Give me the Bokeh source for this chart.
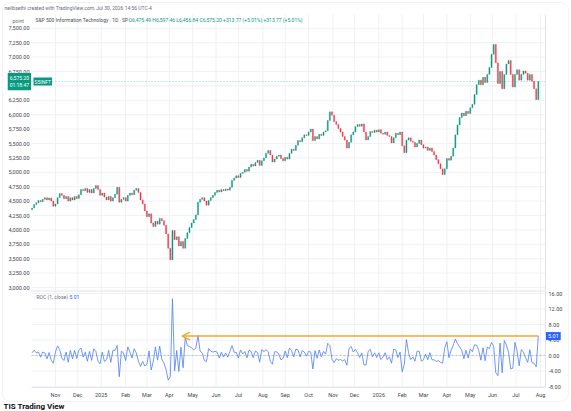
import pandas as pd
from bokeh.plotting import figure
from bokeh.models import (Range1d, LinearAxis, FixedTicker, Label, BoxAnnotation,
                          Arrow, OpenHead, ColumnDataSource, NumeralTickFormatter)
from bokeh.embed import file_html
from bokeh.resources import INLINE

# ---------------- data ----------------
first_open = 4350.0
closes = [
    4380, 4440, 4470, 4510, 4490, 4530, 4560, 4520, 4555, 4500,
    4410, 4450, 4560, 4630, 4600, 4540, 4580, 4500, 4560, 4520,
    4580, 4545, 4610, 4700, 4680, 4720, 4650, 4700, 4640, 4720,
    4770, 4700, 4600, 4640, 4570, 4520, 4580, 4500, 4560, 4620,
    4740, 4480, 4530, 4560, 4500, 4600, 4640, 4610, 4690, 4720,
    4650, 4520, 4450, 4330, 4230, 4280, 4120, 4060, 4150, 4100,
    4200, 4160, 4080, 3930, 3680, 3480, 3990, 3830, 3880, 3720,
    3800, 3680, 3850, 3950, 4040, 4120, 4180, 4260, 4480, 4530,
    4560, 4500, 4430, 4510, 4560, 4600, 4650, 4690, 4660, 4700,
    4680, 4710, 4690, 4740, 4860, 4900, 4940, 4910, 4980, 5000,
    5050, 5020, 5090, 5140, 5110, 5170, 5210, 5120, 5200, 5250,
    5330, 5380, 5300, 5180, 5230, 5280, 5300, 5240, 5200, 5260,
    5230, 5330, 5400, 5380, 5470, 5550, 5530, 5600, 5650, 5640,
    5700, 5750, 5550, 5620, 5580, 5660, 5640, 5700, 5720, 5900,
    6050, 5990, 5880, 5830, 5760, 5700, 5620, 5560, 5420, 5520,
    5650, 5700, 5790, 5830, 5800, 5840, 5700, 5560, 5620, 5710,
    5690, 5730, 5700, 5740, 5680, 5660, 5700, 5640, 5620, 5510,
    5600, 5680, 5650, 5700, 5460, 5340, 5560, 5600, 5540, 5520,
    5440, 5500, 5560, 5480, 5420, 5440, 5380, 5420, 5360, 5300,
    5220, 5150, 5060, 4960, 5060, 5240, 5210, 5280, 5420, 5650,
    5820, 5950, 6030, 5980, 6060, 6020, 6120, 6180, 6350, 6520,
    6600, 6520, 6650, 6560, 6700, 6820, 7050, 7220, 6900, 6540,
    6750, 6450, 6700, 6880, 6940, 6700, 6480, 6700, 6780, 6600,
    6700, 6760, 6720, 6600, 6700, 6580, 6450, 6261.43, 6575.20,
]
month_labels = ["Nov", "Dec", "2025", "Feb", "Mar", "Apr", "May", "Jun", "Jul", "Aug",
                "Sep", "Oct", "Nov", "Dec", "2026", "Feb", "Mar", "Apr", "May", "Jun",
                "Jul", "Aug"]
month_dates = ["2024-11-01", "2024-12-01", "2025-01-01", "2025-02-01", "2025-03-01",
               "2025-04-01", "2025-05-01", "2025-06-01", "2025-07-01", "2025-08-01",
               "2025-09-01", "2025-10-01", "2025-11-01", "2025-12-01", "2026-01-01",
               "2026-02-01", "2026-03-01", "2026-04-01", "2026-05-01", "2026-06-01",
               "2026-07-01", "2026-08-01"]
price_ticks = [3000, 3250, 3500, 3750, 4000, 4250, 4500, 4750, 5000, 5250, 5500,
               5750, 6000, 6250, 6500, 6750, 7000, 7250, 7500]
roc_ticks = [-8, -4, 0, 4, 8, 12, 16]
arrow_end_date = "2025-04-17"

header_text = "neilbsethi created with TradingView.com, Jul 30, 2026 14:56 UTC-4"
symbol_text = "S&P 500 Information Technology \u00b7 1D \u00b7 SP"
ohlc_text = "O6,475.49 H6,597.46 L6,456.84 C6,575.20 +313.77 (+5.01%) +313.77 (+5.01%)"
ticker_tag = "S5INFT"
countdown = "01:18:47"
roc_name = "ROC (1, close)"
footer_text = "TIS Trading View"

# ---------------- derived series ----------------
cal = pd.bdate_range("2024-10-01", "2026-08-31")
trading = cal[cal <= pd.Timestamp("2026-07-30")]
candle_days = trading[1::2]
assert len(candle_days) == len(closes), (len(candle_days), len(closes))
xs = [int(cal.get_loc(d)) for d in candle_days]
opens = [first_open] + closes[:-1]
roc = [100.0 * (c / o - 1.0) for o, c in zip(opens, closes)]
month_idx = [int(cal.searchsorted(pd.Timestamp(d))) for d in month_dates]
arrow_end_idx = int(cal.searchsorted(pd.Timestamp(arrow_end_date)))

GREEN, RED = "#089981", "#f23645"
colors = [GREEN if c >= o else RED for o, c in zip(opens, closes)]

# ---------------- layout geometry (page pixels) ----------------
W, H = 570, 410
FL, FR, FT, FB = 31, 545, 14, 387          # chart panes on the page
PX_DAY, IDX0 = 1.0636, 30.5                # x scale
P_PX, P_REF, P_REF_Y = 250 / 14.4, 3000, 287
R_PX, R0_Y = 3.875, 355

def dx(px):
    return (px - IDX0) / PX_DAY

def dp(py):
    return P_REF + (P_REF_Y - py) * P_PX

def dr(py):
    return (R0_Y - py) / R_PX

# the frame covers the whole canvas; axes sit at fixed locations inside it
p = figure(width=W, height=H,
           x_range=Range1d(dx(0), dx(W)),
           y_range=Range1d(dp(H), dp(0)),
           x_axis_type=None, y_axis_type=None,
           output_backend="svg", toolbar_location=None, min_border=0)
p.title.visible = False
p.extra_y_ranges = {"roc": Range1d(dr(H), dr(0))}
p.outline_line_color = None
p.background_fill_color = "white"
p.border_fill_color = "white"

FONT = "Roboto"
AX_COL = "#434651"
GRID = "#eff1f5"

# outer rounded frame of the snapshot
p.add_layout(BoxAnnotation(left=dx(2), right=dx(568), top=dp(2), bottom=dp(401),
                           fill_color=None, line_color="#d5d8df", line_width=1,
                           border_radius=8))

def style_axis(ax, standoff):
    ax.major_tick_line_color = None
    ax.minor_tick_line_color = None
    ax.major_tick_out = 0
    ax.major_tick_in = 0
    ax.minor_tick_out = 0
    ax.minor_tick_in = 0
    ax.major_label_text_font_size = "5.5px"
    ax.major_label_text_font = FONT
    ax.major_label_text_color = AX_COL
    ax.major_label_standoff = standoff

# grid lines, limited to the panes
p.segment(x0=month_idx, x1=month_idx, y0=[dp(FB)] * len(month_idx),
          y1=[dp(FT)] * len(month_idx), line_color=GRID, line_width=1)
p.segment(x0=[dx(FL)] * len(price_ticks), x1=[dx(FR)] * len(price_ticks),
          y0=price_ticks, y1=price_ticks, line_color=GRID, line_width=1)
p.segment(x0=[dx(FL)] * len(roc_ticks), x1=[dx(FR)] * len(roc_ticks),
          y0=roc_ticks, y1=roc_ticks, line_color=GRID, line_width=1, y_range_name="roc")

# pane separator, zero line, last-price line
p.segment(x0=[dx(FL)], x1=[dx(FR)], y0=[dp(290.5)], y1=[dp(290.5)],
          line_color="#e0e3eb", line_width=1)
p.segment(x0=[dx(FL)], x1=[dx(FR)], y0=[0], y1=[0], y_range_name="roc",
          line_color="#9598a1", line_dash="2 2", line_width=0.7, line_alpha=0.8)
p.segment(x0=[dx(FL)], x1=[dx(FR)], y0=[closes[-1]], y1=[closes[-1]],
          line_color=GREEN, line_dash="1 2", line_width=0.8, line_alpha=0.6)

price_axis = LinearAxis(ticker=FixedTicker(ticks=price_ticks), fixed_location=dx(FL),
                        formatter=NumeralTickFormatter(format="0,0.00"))
style_axis(price_axis, 2)
price_axis.axis_line_color = None
p.add_layout(price_axis, "left")

roc_axis = LinearAxis(y_range_name="roc", ticker=FixedTicker(ticks=roc_ticks),
                      fixed_location=dx(FR), bounds=(dr(FB), dr(FT)),
                      formatter=NumeralTickFormatter(format="0.00"))
style_axis(roc_axis, 3)
roc_axis.axis_line_color = "#e0e3eb"
p.add_layout(roc_axis, "right")

x_axis = LinearAxis(ticker=FixedTicker(ticks=month_idx), fixed_location=dp(FB),
                    bounds=(dx(FL), dx(FR)),
                    major_label_overrides={i: l for i, l in zip(month_idx, month_labels)})
style_axis(x_axis, 4)
x_axis.axis_line_color = "#e6e8ee"
p.add_layout(x_axis, "below")

# candles
src = ColumnDataSource(dict(
    x=xs,
    top=[max(o, c) for o, c in zip(opens, closes)],
    bottom=[min(o, c) for o, c in zip(opens, closes)],
    color=colors,
))
p.vbar(x="x", width=1.0, top="top", bottom="bottom", fill_color="color",
       line_color="color", line_width=0.4, source=src)

# ROC line
p.line(xs, roc, y_range_name="roc", line_color="#4d7ff5", line_width=0.8)

ORANGE = "#f7a531"
p.add_layout(Arrow(end=OpenHead(size=8, line_color=ORANGE, line_width=1.5),
                   x_start=xs[-1], y_start=roc[-1], x_end=arrow_end_idx, y_end=roc[-1],
                   line_color=ORANGE, line_width=1.5, y_range_name="roc"))

def add_label(text, x, y, size, color, align="left", baseline="middle", roc_pane=False,
              bg=None, style="normal", pad=0):
    kw = dict(x=x, y=y, text=text, text_font=FONT, text_font_size=size, text_color=color,
              text_align=align, text_baseline=baseline, text_font_style=style)
    if roc_pane:
        kw["y_range_name"] = "roc"
    if bg is not None:
        kw["background_fill_color"] = bg
        kw["padding"] = pad
    p.add_layout(Label(**kw))

add_label(header_text, dx(4), dp(7), "5px", "#6a6d78")
add_label("point", dx(12), dp(20), "5px", "#6a6d78")
add_label(symbol_text, dx(35), dp(19.5), "5px", "#4a4e5a")
add_label(ohlc_text, dx(128), dp(19.5), "5px", GREEN)
add_label("6,575.20\n" + countdown, dx(30.5), closes[-1], "5px", "white", align="right",
          bg=GREEN, pad=2)
add_label(ticker_tag, dx(33), closes[-1], "5px", "white", bg=GREEN, pad=1)
add_label(roc_name, dx(36), dr(296), "5px", "#6a6d78", roc_pane=True)
add_label("%.2f" % roc[-1], dx(69), dr(296), "5px", "#2962ff", roc_pane=True)
add_label("%.2f" % roc[-1], dx(FR + 0.5), roc[-1], "5.5px", "white", roc_pane=True,
          bg="#2962ff", pad=2)
add_label(footer_text, dx(3), dp(401.5), "8px", "#111111", baseline="top", style="bold")

open("out.html", "w").write(file_html(p, INLINE))
